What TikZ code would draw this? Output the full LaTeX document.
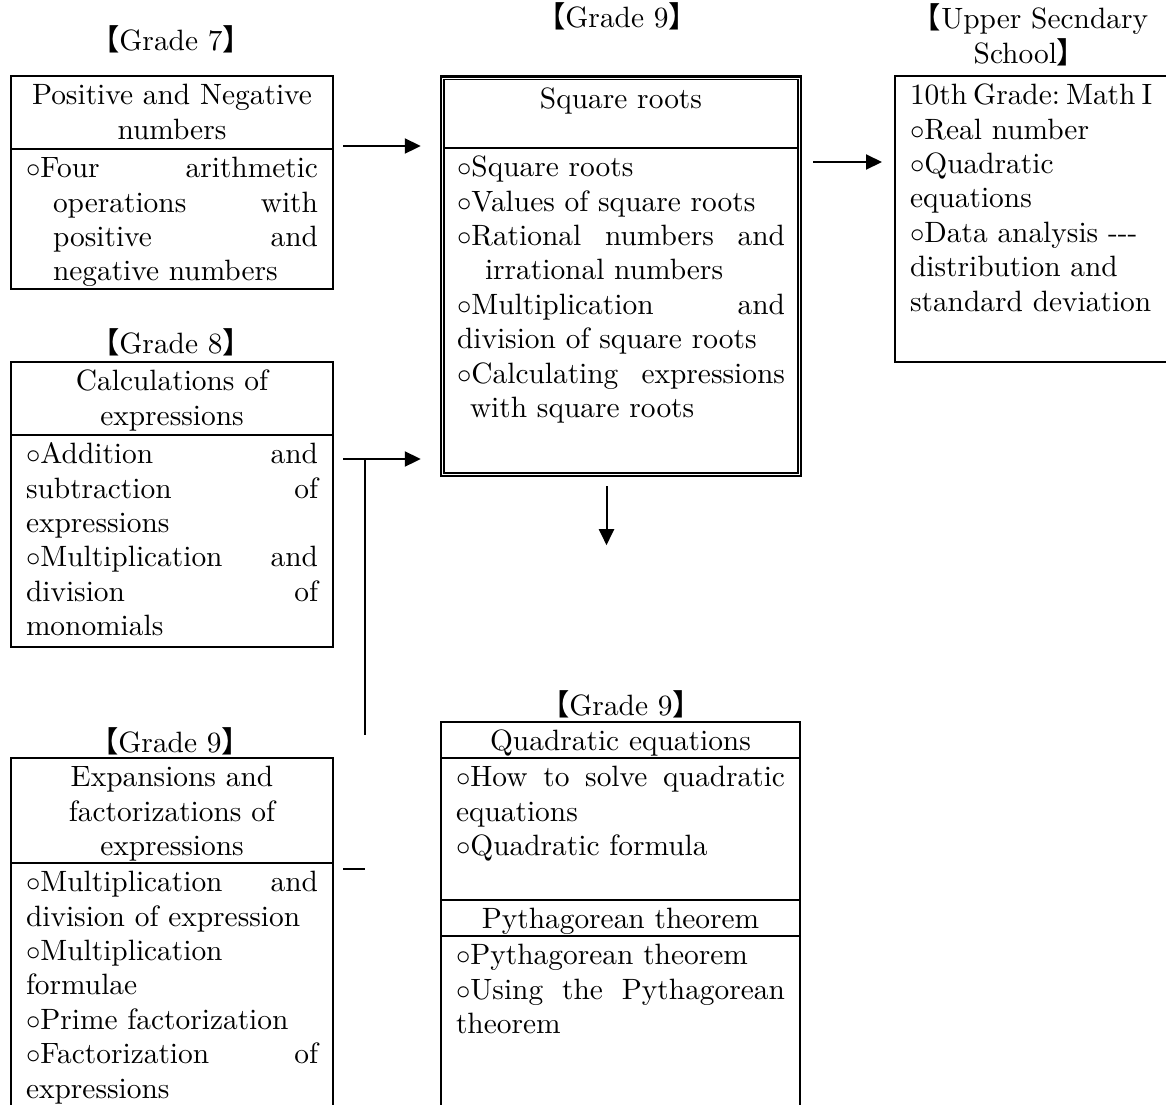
\documentclass[tikz,border=0pt]{standalone}
\usepackage{fontspec}
\setmainfont{lmroman10-regular.otf}
\newfontfamily\cjk{Noto Sans CJK JP}
\usetikzlibrary{positioning,fit,calc,arrows.meta}

\newcommand\celltext[3]{\begin{minipage}[t][#2][t]{\dimexpr#1-15pt\relax}\rule{0pt}{14.3pt}#3\end{minipage}}
\newcommand\grade[1]{{\cjk 【}#1{\cjk 】}}

\tikzset{
  cell/.style={draw, line width=1.1pt, inner xsep=7.5pt, inner ysep=0pt, outer sep=0pt},
  thincell/.style={cell, line width=0.8pt, inner xsep=6.5pt},
  lbl/.style={anchor=base, align=center},
  arr/.style={->, line width=1pt},
  conn/.style={line width=0.9pt}
}

\begin{document}
\begin{tikzpicture}[x=0.5pt, y=-0.5pt, >={Triangle[length=8pt,width=7.5pt]},
    every node/.style={font=\fontsize{14.7pt}{17.2pt}\selectfont}]
    \useasboundingbox (0,0) rectangle (1166,1104);

    % grade 7
    \node[lbl] (l7) at (171,50) {\grade{Grade 7}};
    \node[cell, anchor=north west] (b7head) at (11,76)
        {\celltext{161pt}{36.5pt}{\centering Positive and Negative\\numbers}};
    \node[cell, below=0pt of b7head] (b7body)
        {\celltext{161pt}{70pt}{$\circ$Four\hfill arithmetic\\
        \hspace*{13.5pt}operations\hfill with\\
        \hspace*{13.5pt}positive\hfill and\\
        \hspace*{13.5pt}negative numbers}};

    % grade 9, square roots
    \node[lbl] (lsq) at (617,27) {\grade{Grade 9}};
    \node[thincell, anchor=north west] (sqhead) at (444,79.5)
        {\celltext{179pt}{34.25pt}{\centering Square roots}};
    \node[thincell, below=0pt of sqhead] (sqbody)
        {\celltext{179pt}{162.5pt}{$\circ$Square roots\\
        $\circ$Values of square roots\\
        $\circ$Rational\hfill numbers\hfill and\\
        \hspace*{14pt}irrational numbers\\
        $\circ$Multiplication\hfill and\\
        division of square roots\\
        $\circ$Calculating\hfill expressions\\
        \hspace*{6.5pt}with square roots}};
    \node[fit=(sqhead)(sqbody), draw, line width=1.2pt, inner sep=1.6pt, outer sep=0pt] (sqframe) {};

    % upper secondary
    \node[lbl] (lup) at (1030,63) {{\cjk 【}Upper Secndary\\School{\cjk 】}};
    \node[cell, anchor=north west] (up) at (895,76)
        {\celltext{160pt}{143pt}{\raggedright 10th\hspace{3pt}Grade:\hspace{3pt}Math\hspace{3pt}I\\
        $\circ$Real number\\
        $\circ$Quadratic\\
        equations\\
        $\circ$Data analysis -{}-{}-\\
        distribution and\\
        standard deviation}};

    % grade 8
    \node[lbl] (l8) at (171,353) {\grade{Grade 8}};
    \node[cell, anchor=north west] (b8head) at (11,362)
        {\celltext{161pt}{36.5pt}{\centering Calculations of\\expressions}};
    \node[cell, below=0pt of b8head] (b8body)
        {\celltext{161pt}{106pt}{$\circ$Addition\hfill and\\
        subtraction\hfill of\\
        expressions\\
        $\circ$Multiplication\hfill and\\
        division\hfill of\\
        monomials}};

    % grade 9, expansions
    \node[lbl] (l9a) at (170,752) {\grade{Grade 9}};
    \node[cell, anchor=north west] (b9head) at (11,758)
        {\celltext{161pt}{52.5pt}{\centering Expansions and\\factorizations of\\expressions}};
    \node[cell, below=0pt of b9head] (b9body)
        {\celltext{161pt}{126pt}{$\circ$Multiplication\hfill and\\
        division of expression\\
        $\circ$Multiplication\\
        formulae\\
        $\circ$Prime factorization\\
        $\circ$Factorization\hfill of\\
        expressions}};

    % grade 9, quadratic / pythagoras
    \node[lbl] (l9b) at (621,715) {\grade{Grade 9}};
    \node[cell, anchor=north west] (qhead) at (441,722)
        {\celltext{179.5pt}{18pt}{\centering Quadratic equations}};
    \node[cell, below=0pt of qhead] (qbody)
        {\celltext{179.5pt}{71pt}{$\circ$How\hfill to\hfill solve\hfill quadratic\\
        equations\\
        $\circ$Quadratic formula}};
    \node[cell, below=0pt of qbody] (phead)
        {\celltext{179.5pt}{18pt}{\centering Pythagorean theorem}};
    \node[cell, below=0pt of phead] (pbody)
        {\celltext{179.5pt}{89.5pt}{$\circ$Pythagorean theorem\\
        $\circ$Using\hfill the\hfill Pythagorean\\
        theorem}};

    % connectors
    \draw[arr, shorten <=5pt, shorten >=10pt] ($(b7head.south east)+(0,1.5pt)$) -- ($(b7head.south east -| sqframe.west)+(0,1.5pt)$);
    \draw[arr, shorten <=7.5pt, shorten >=6.5pt] ($(sqbody.north east)+(0,-7pt)$) -- ($(sqbody.north east -| up.west)+(0,-7pt)$);
    \draw[arr, shorten <=5pt, shorten >=10pt] ($(b8body.north east)+(0,-12pt)$) -- ($(b8body.north east -| sqframe.west)+(0,-12pt)$);
    \coordinate (tee) at ($(b8body.north east)+(16pt,-12pt)$);
    \coordinate (stub) at (tee |- 0,735);
    \draw[conn] (tee) -- (stub);
    \draw[conn] ($(b9body.north east)+(5pt,-3pt)$) -- ++(11pt,0);
    \coordinate (dn) at ($(sqframe.south)+(-7.25pt,-34.5pt)$);
    \draw[arr] ($(sqframe.south)+(-7.25pt,-5pt)$) -- (dn);
\end{tikzpicture}
\end{document}
